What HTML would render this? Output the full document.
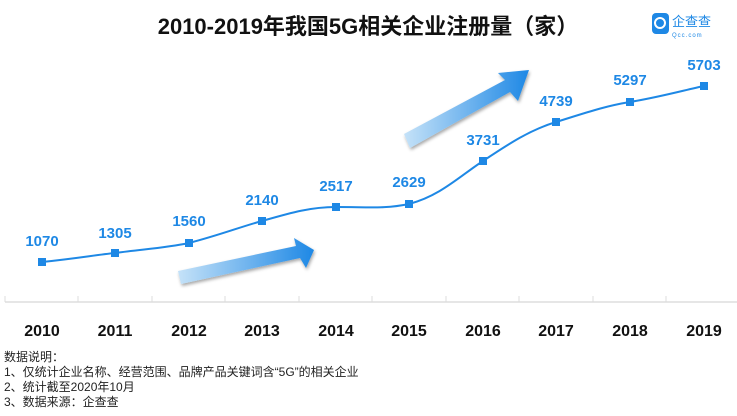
<!DOCTYPE html><html><head><meta charset="utf-8"><style>body{margin:0;background:#fff}svg{display:block}</style></head><body>
<svg width="737" height="416" xmlns="http://www.w3.org/2000/svg" font-family="Liberation Sans, Noto Sans CJK SC, sans-serif">
<defs>
<linearGradient id="g1" x1="0" y1="0" x2="1" y2="0"><stop offset="0" stop-color="#c5e2f8"/><stop offset="1" stop-color="#1e88e5"/></linearGradient>
<filter id="sh"><feDropShadow dx="1" dy="2" stdDeviation="1.5" flood-color="#000" flood-opacity="0.35"/></filter>
</defs>
<text x="368" y="34" text-anchor="middle" font-size="22" font-weight="bold" fill="#111">2010-2019年我国5G相关企业注册量（家）</text>
<rect x="652" y="13" width="17" height="21" rx="4" fill="#1e88e5"/>
<circle cx="660" cy="23" r="5" fill="none" stroke="#fff" stroke-width="2"/>
<text x="672" y="26" font-size="13" fill="#1e88e5">企查查</text>
<text x="672" y="37" font-size="6" fill="#1e88e5" letter-spacing="1">Qcc.com</text>
<path d="M181 284 L300 258 L306 268 L314 250 L294 238 L296 246 L178 271 Z" fill="url(#g1)" filter="url(#sh)"/>
<path d="M410 148 L510 92 L518 101 L529 70 L498 73 L505 80 L404 134 Z" fill="url(#g1)" filter="url(#sh)"/>
<line x1="5" y1="302" x2="737" y2="302" stroke="#ddd" stroke-width="1.5"/>
<g stroke="#ddd"><line x1="5" y1="296" x2="5" y2="302"/><line x1="78" y1="296" x2="78" y2="302"/><line x1="152" y1="296" x2="152" y2="302"/><line x1="225" y1="296" x2="225" y2="302"/><line x1="299" y1="296" x2="299" y2="302"/><line x1="372" y1="296" x2="372" y2="302"/><line x1="446" y1="296" x2="446" y2="302"/><line x1="519" y1="296" x2="519" y2="302"/><line x1="593" y1="296" x2="593" y2="302"/><line x1="666" y1="296" x2="666" y2="302"/></g>
<path d="M42 262 C80 258 95 255 115 253 C145 249 165 248 189 243 C220 235 240 227 262 221 C290 213 310 207 336 207 C370 207 385 209 409 204 C440 196 460 176 483 161 C510 143 530 130 556 122 C585 113 605 106 630 102 C660 97 685 90 704 86" fill="none" stroke="#1e88e5" stroke-width="2"/>
<g fill="#1e88e5"><rect x="38" y="258" width="8" height="8"/><rect x="111" y="249" width="8" height="8"/><rect x="185" y="239" width="8" height="8"/><rect x="258" y="217" width="8" height="8"/><rect x="332" y="203" width="8" height="8"/><rect x="405" y="200" width="8" height="8"/><rect x="479" y="157" width="8" height="8"/><rect x="552" y="118" width="8" height="8"/><rect x="626" y="98" width="8" height="8"/><rect x="700" y="82" width="8" height="8"/></g>
<g fill="#1e88e5" font-size="15" font-weight="bold" text-anchor="middle"><text x="42" y="246">1070</text><text x="115" y="238">1305</text><text x="189" y="226">1560</text><text x="262" y="205">2140</text><text x="336" y="191">2517</text><text x="409" y="187">2629</text><text x="483" y="145">3731</text><text x="556" y="106">4739</text><text x="630" y="85">5297</text><text x="704" y="70">5703</text></g>
<g fill="#111" font-size="16" font-weight="bold" text-anchor="middle"><text x="42" y="336">2010</text><text x="115" y="336">2011</text><text x="189" y="336">2012</text><text x="262" y="336">2013</text><text x="336" y="336">2014</text><text x="409" y="336">2015</text><text x="483" y="336">2016</text><text x="556" y="336">2017</text><text x="630" y="336">2018</text><text x="704" y="336">2019</text></g>
<g fill="#222" font-size="12"><text x="4" y="361">数据说明：</text><text x="4" y="376">1、仅统计企业名称、经营范围、品牌产品关键词含“5G”的相关企业</text><text x="4" y="391">2、统计截至2020年10月</text><text x="4" y="406">3、数据来源：企查查</text></g>
</svg></body></html>
